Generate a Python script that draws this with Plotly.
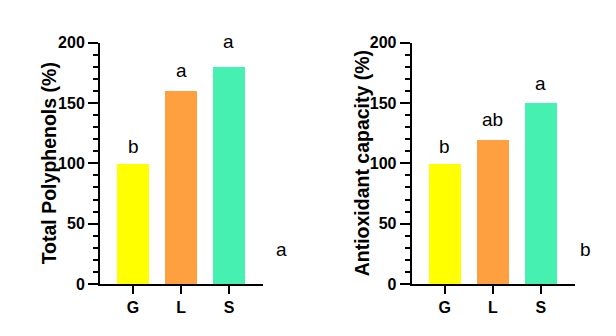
import plotly.graph_objects as go

categories = ["G", "L", "S"]
polyphenols = [100, 160, 180]
antioxidant = [100, 120, 150]
poly_letters = ["b", "a", "a"]
anti_letters = ["b", "ab", "a"]
poly_letter_y = [104, 167, 191]
anti_letter_y = [104, 126, 156]
colors = ["#FFFF00", "#FFA040", "#45F0B0"]
y_titles = ["Total Polyphenols (%)", "Antioxidant capacity (%)"]

W, H = 616, 336
FONT = "Arial, Liberation Sans, sans-serif"

def px_x(a, b):
    return [a / W, b / W]

ydom = [(H - 284) / H, (H - 42.7) / H]

fig = go.Figure()
fig.add_trace(go.Bar(x=categories, y=polyphenols, marker=dict(color=colors, line=dict(width=0)),
                     width=0.667, xaxis="x", yaxis="y", showlegend=False))
fig.add_trace(go.Bar(x=categories, y=antioxidant, marker=dict(color=colors, line=dict(width=0)),
                     width=0.667, xaxis="x2", yaxis="y2", showlegend=False))

xcommon = dict(range=[-0.69, 2.71], showline=True, linecolor="black", linewidth=2,
               ticks="outside", ticklen=8, tickwidth=2, tickcolor="black",
               tickfont=dict(family=FONT, size=16, color="black", weight="bold"),
               showgrid=False, zeroline=False, fixedrange=True, automargin=False)
ycommon = dict(range=[0, 200], dtick=50, showline=True, linecolor="black", linewidth=2,
               ticks="outside", ticklen=10, tickwidth=2, tickcolor="black",
               minor=dict(dtick=10, ticks="outside", ticklen=5, tickwidth=2, tickcolor="black"),
               tickfont=dict(family=FONT, size=16, color="black", weight="bold"),
               showgrid=False, zeroline=False, domain=ydom, automargin=False)

fig.update_layout(
    width=W, height=H, margin=dict(l=0, r=0, t=0, b=0),
    plot_bgcolor="white", paper_bgcolor="white",
    xaxis=dict(domain=px_x(100, 263), anchor="y", **xcommon),
    yaxis=dict(anchor="x", **ycommon),
    xaxis2=dict(domain=px_x(411.7, 575), anchor="y2", **xcommon),
    yaxis2=dict(anchor="x2", **ycommon),
    bargap=0,
)

ymid = (ydom[0] + ydom[1]) / 2
for xt, t in zip([49, 362], y_titles):
    fig.add_annotation(x=xt / W, y=ymid, xref="paper", yref="paper", text=t, textangle=-90,
                       showarrow=False, xanchor="center", yanchor="middle",
                       font=dict(family=FONT, size=19.5, color="black", weight="bold"))

for c, t, yv in zip(categories, poly_letters, poly_letter_y):
    fig.add_annotation(x=c, y=yv, xref="x", yref="y", text=t, showarrow=False,
                       yanchor="bottom", font=dict(family=FONT, size=19, color="black"))
for c, t, yv in zip(categories, anti_letters, anti_letter_y):
    fig.add_annotation(x=c, y=yv, xref="x2", yref="y2", text=t, showarrow=False,
                       yanchor="bottom", font=dict(family=FONT, size=19, color="black"))

fig.add_annotation(x=281 / W, y=(H - 262) / H, xref="paper", yref="paper", text="a",
                   showarrow=False, font=dict(family=FONT, size=19, color="black"))
fig.add_annotation(x=593 / W, y=(H - 262) / H, xref="paper", yref="paper", text="b",
                   showarrow=False, font=dict(family=FONT, size=19, color="black"))

fig.write_html("out.html")
